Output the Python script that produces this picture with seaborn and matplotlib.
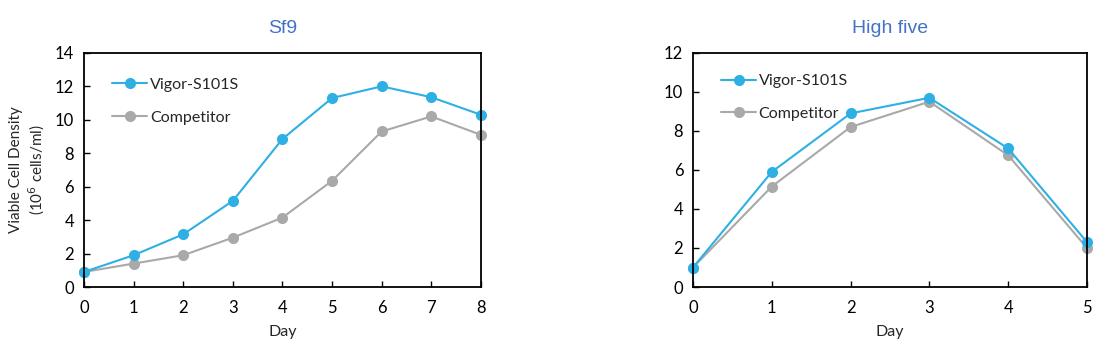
import pandas as pd
import seaborn as sns
import matplotlib.pyplot as plt

# Sf9 culture, days 0-8
sf9_days = [0, 1, 2, 3, 4, 5, 6, 7, 8]
sf9_vigor = [0.9, 1.9, 3.15, 5.15, 8.85, 11.3, 12.0, 11.35, 10.3]
sf9_competitor = [0.9, 1.4, 1.9, 2.95, 4.15, 6.35, 9.3, 10.2, 9.1]

# High five culture, days 0-5
hf_days = [0, 1, 2, 3, 4, 5]
hf_vigor = [1.0, 5.9, 8.9, 9.7, 7.1, 2.3]
hf_competitor = [1.0, 5.15, 8.2, 9.5, 6.75, 2.0]

series_names = ['Vigor-S101S', 'Competitor']
palette = {'Vigor-S101S': '#2eb0e4', 'Competitor': '#a9a9a9'}


def to_frame(days, vigor, competitor):
    rows = []
    for d, v in zip(days, vigor):
        rows.append({'Day': d, 'value': v, 'series': series_names[0]})
    for d, c in zip(days, competitor):
        rows.append({'Day': d, 'value': c, 'series': series_names[1]})
    return pd.DataFrame(rows)


sns.set_style('ticks')
plt.rcParams['font.family'] = ['Lato', 'DejaVu Sans']

fig = plt.figure(figsize=(11.15, 3.51), dpi=100, facecolor='white')
ax1 = fig.add_axes([0.0753, 0.1823, 0.356, 0.667])
ax2 = fig.add_axes([0.6215, 0.1823, 0.3534, 0.667])

panels = [
    (ax1, to_frame(sf9_days, sf9_vigor, sf9_competitor), 'Sf9', 8, 14, 0.955),
    (ax2, to_frame(hf_days, hf_vigor, hf_competitor), 'High five', 5, 12, 0.97),
]

for ax, df, title, xmax, ymax, leg_y in panels:
    # competitor first so Vigor is drawn on top
    sns.lineplot(data=df, x='Day', y='value', hue='series', palette=palette,
                 marker='o', markersize=8, markeredgewidth=0, linewidth=1.5,
                 ax=ax, hue_order=series_names[::-1], legend=False)
    ax.set_xlim(0, xmax)
    ax.set_ylim(0, ymax)
    ax.set_xticks(range(0, xmax + 1))
    ax.set_yticks(range(0, ymax + 1, 2))
    ax.tick_params(direction='in', length=4, width=1, labelsize=12,
                   colors='black')
    ax.tick_params(axis='x', pad=9)
    ax.tick_params(axis='y', pad=7)
    for s in ax.spines.values():
        s.set_visible(True)
        s.set_linewidth(1.3)
        s.set_color('black')
    ax.set_xlabel('Day', fontsize=11.5, labelpad=7)
    ax.set_ylabel('')
    ax.set_title(title, fontsize=14, color='#4472c4', pad=14,
                 family=['Liberation Sans', 'DejaVu Sans'])
    for line in ax.lines:
        line.set_clip_on(False)
    handles = [plt.Line2D([], [], color=palette[n], marker='o', markersize=8,
                          markeredgewidth=0, linewidth=1.5) for n in series_names]
    ax.legend(handles, series_names, loc='upper left', frameon=False,
              fontsize=11.5, handlelength=2.2, handletextpad=0.15,
              labelspacing=1.15, bbox_to_anchor=(0.035, leg_y))

ax1.set_ylabel('Viable Cell Density\n(10$^6$ cells/ml)', fontsize=11,
               labelpad=6)

fig.savefig('out.png', dpi=100, facecolor='white')
